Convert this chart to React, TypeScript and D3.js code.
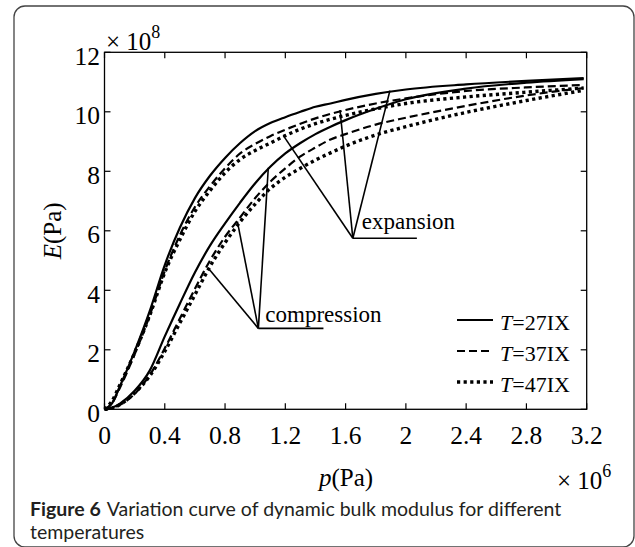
import * as d3 from "d3";

// pressure p (x 10^6 Pa) and bulk modulus E (x 10^8 Pa)
const pressure = [0, 0.05, 0.1, 0.2, 0.3, 0.4, 0.5, 0.6, 0.7, 0.8, 0.9, 1.0, 1.1, 1.2, 1.3, 1.4, 1.5, 1.6, 1.8, 2.0, 2.4, 2.8, 3.18];

const expansion27 = [0, 0.2, 0.75, 1.95, 3.3, 4.85, 6.1, 7.1, 7.85, 8.45, 8.95, 9.35, 9.62, 9.82, 10.0, 10.17, 10.28, 10.4, 10.6, 10.75, 10.92, 11.04, 11.13];
const expansion37 = [0, 0.2, 0.7, 1.85, 3.15, 4.65, 5.85, 6.8, 7.5, 8.1, 8.6, 8.92, 9.18, 9.4, 9.6, 9.78, 9.93, 10.06, 10.28, 10.45, 10.7, 10.82, 10.9];
const expansion47 = [0, 0.28, 0.8, 1.9, 3.15, 4.6, 5.7, 6.65, 7.35, 7.95, 8.4, 8.7, 8.95, 9.2, 9.42, 9.6, 9.75, 9.88, 10.1, 10.28, 10.5, 10.66, 10.8];
const compression27 = [0, 0.05, 0.18, 0.62, 1.3, 2.45, 3.55, 4.6, 5.5, 6.25, 6.95, 7.6, 8.15, 8.6, 8.95, 9.25, 9.5, 9.72, 10.1, 10.42, 10.78, 10.98, 11.1];
const compression37 = [0, 0.04, 0.14, 0.52, 1.15, 2.05, 3.05, 4.05, 5.0, 5.8, 6.45, 7.1, 7.65, 8.1, 8.5, 8.8, 9.07, 9.25, 9.57, 9.8, 10.2, 10.55, 10.8];
const compression47 = [0, 0.04, 0.15, 0.55, 1.12, 1.95, 2.9, 3.85, 4.8, 5.6, 6.3, 6.9, 7.42, 7.8, 8.1, 8.38, 8.62, 8.85, 9.22, 9.5, 9.98, 10.38, 10.72];

const xTicks = [0, 0.4, 0.8, 1.2, 1.6, 2, 2.4, 2.8, 3.2];
const yTicks = [0, 2, 4, 6, 8, 10, 12];

const temps = ["27", "37", "47"];

// annotation leaders: hub point, underline end, target points on curves
const compressionHub = [1.021, 2.72];
const compressionEnd = 1.453;
const compressionTargets = [[0.689, 4.74], [0.882, 6.31], [1.087, 8.12]];
const expansionHub = [1.648, 5.75];
const expansionEnd = 2.073;
const expansionTargets = [[1.187, 9.2], [1.563, 10.06], [1.894, 10.71]];

const styles = [
  { dash: "none", width: 2.2 },
  { dash: "8,4", width: 2.2 },
  { dash: "3.2,3.4", width: 3.4 },
];

const serif = "'Liberation Serif', 'Times New Roman', serif";
const sans = "Lato, 'Open Sans', sans-serif";

export default function App() {
  const x = d3.scaleLinear().domain([0, 3.2]).range([104.5, 586.7]);
  const y = d3.scaleLinear().domain([0, 12]).range([409.3, 52.3]);

  const line = d3
    .line<number>()
    .x((_, i) => x(pressure[i]))
    .y((d) => y(d))
    .curve(d3.curveMonotoneX);

  const series = [
    { values: expansion27, s: 0 },
    { values: expansion37, s: 1 },
    { values: expansion47, s: 2 },
    { values: compression27, s: 0 },
    { values: compression37, s: 1 },
    { values: compression47, s: 2 },
  ];

  const [x0, x1] = x.range();
  const [y0, y1] = y.range();

  return (
    <svg width={635} height={547} style={{ position: "absolute", left: 0, top: 0, background: "#fff" }}>
      <rect x={14} y={6} width={620} height={541} rx={11} fill="none" stroke="#444" strokeWidth={1.3} />

      {series.map((d, i) => (
        <path
          key={i}
          d={line(d.values) || ""}
          fill="none"
          stroke="#000"
          strokeWidth={styles[d.s].width}
          strokeDasharray={styles[d.s].dash}
        />
      ))}

      {/* leaders */}
      {compressionTargets.map((t, i) => (
        <line key={"c" + i} x1={x(compressionHub[0])} y1={y(compressionHub[1])} x2={x(t[0])} y2={y(t[1])} stroke="#000" strokeWidth={1.6} />
      ))}
      <line x1={x(compressionHub[0])} y1={y(compressionHub[1])} x2={x(compressionEnd)} y2={y(compressionHub[1])} stroke="#000" strokeWidth={1.6} />
      {expansionTargets.map((t, i) => (
        <line key={"e" + i} x1={x(expansionHub[0])} y1={y(expansionHub[1])} x2={x(t[0])} y2={y(t[1])} stroke="#000" strokeWidth={1.6} />
      ))}
      <line x1={x(expansionHub[0])} y1={y(expansionHub[1])} x2={x(expansionEnd)} y2={y(expansionHub[1])} stroke="#000" strokeWidth={1.6} />
      <text x={x(compressionHub[0]) + 7} y={y(compressionHub[1]) - 6.5} fontFamily={serif} fontSize={23}>compression</text>
      <text x={x(expansionHub[0]) + 9} y={y(expansionHub[1]) - 9} fontFamily={serif} fontSize={23}>expansion</text>

      {/* axes box */}
      <rect x={x0} y={y1} width={x1 - x0} height={y0 - y1} fill="none" stroke="#000" strokeWidth={1.3} />
      {xTicks.map((t) => (
        <g key={"x" + t}>
          <line x1={x(t)} x2={x(t)} y1={y0} y2={y0 - 6} stroke="#000" strokeWidth={1.2} />
          <line x1={x(t)} x2={x(t)} y1={y1} y2={y1 + 6} stroke="#000" strokeWidth={1.2} />
          <text x={x(t)} y={444} textAnchor="middle" fontFamily={serif} fontSize={25.5}>{t}</text>
        </g>
      ))}
      {yTicks.map((t) => (
        <g key={"y" + t}>
          <line x1={x0} x2={x0 + 6} y1={y(t)} y2={y(t)} stroke="#000" strokeWidth={1.2} />
          <line x1={x1} x2={x1 - 6} y1={y(t)} y2={y(t)} stroke="#000" strokeWidth={1.2} />
          <text x={100} y={y(t) + 12.5} textAnchor="end" fontFamily={serif} fontSize={25.5}>{t}</text>
        </g>
      ))}

      {/* exponents */}
      <text x={106} y={50} fontFamily={serif} fontSize={25}>
        {"\u00d7 10"}
        <tspan fontSize={18} dy={-12}>8</tspan>
      </text>
      <text x={557} y={489} fontFamily={serif} fontSize={25}>
        {"\u00d7 10"}
        <tspan fontSize={18} dy={-12}>6</tspan>
      </text>

      {/* axis titles */}
      <text x={346} y={486} textAnchor="middle" fontFamily={serif} fontSize={25}>
        <tspan fontStyle="italic">p</tspan>(Pa)
      </text>
      <text transform={`translate(61,${(y0 + y1) / 2}) rotate(-90)`} textAnchor="middle" fontFamily={serif} fontSize={25}>
        <tspan fontStyle="italic">E</tspan>(Pa)
      </text>

      {/* legend */}
      {temps.map((t, i) => (
        <g key={"l" + t}>
          <line x1={457} x2={493} y1={320 + i * 31} y2={320 + i * 31} stroke="#000" strokeWidth={styles[i].width} strokeDasharray={styles[i].dash} />
          <text x={500} y={330 + i * 31} fontFamily={serif} fontSize={22}>
            <tspan fontStyle="italic">T</tspan>={t}IX
          </text>
        </g>
      ))}

      {/* caption */}
      <text x={30} y={516} fontFamily={sans} fontSize={19.5} fill="#231f20">
        <tspan fontWeight="bold">Figure 6</tspan>
        <tspan dx={6}>Variation curve of dynamic bulk modulus for different</tspan>
      </text>
      <text x={30} y={539} fontFamily={sans} fontSize={19.5} fill="#231f20">temperatures</text>
    </svg>
  );
}
